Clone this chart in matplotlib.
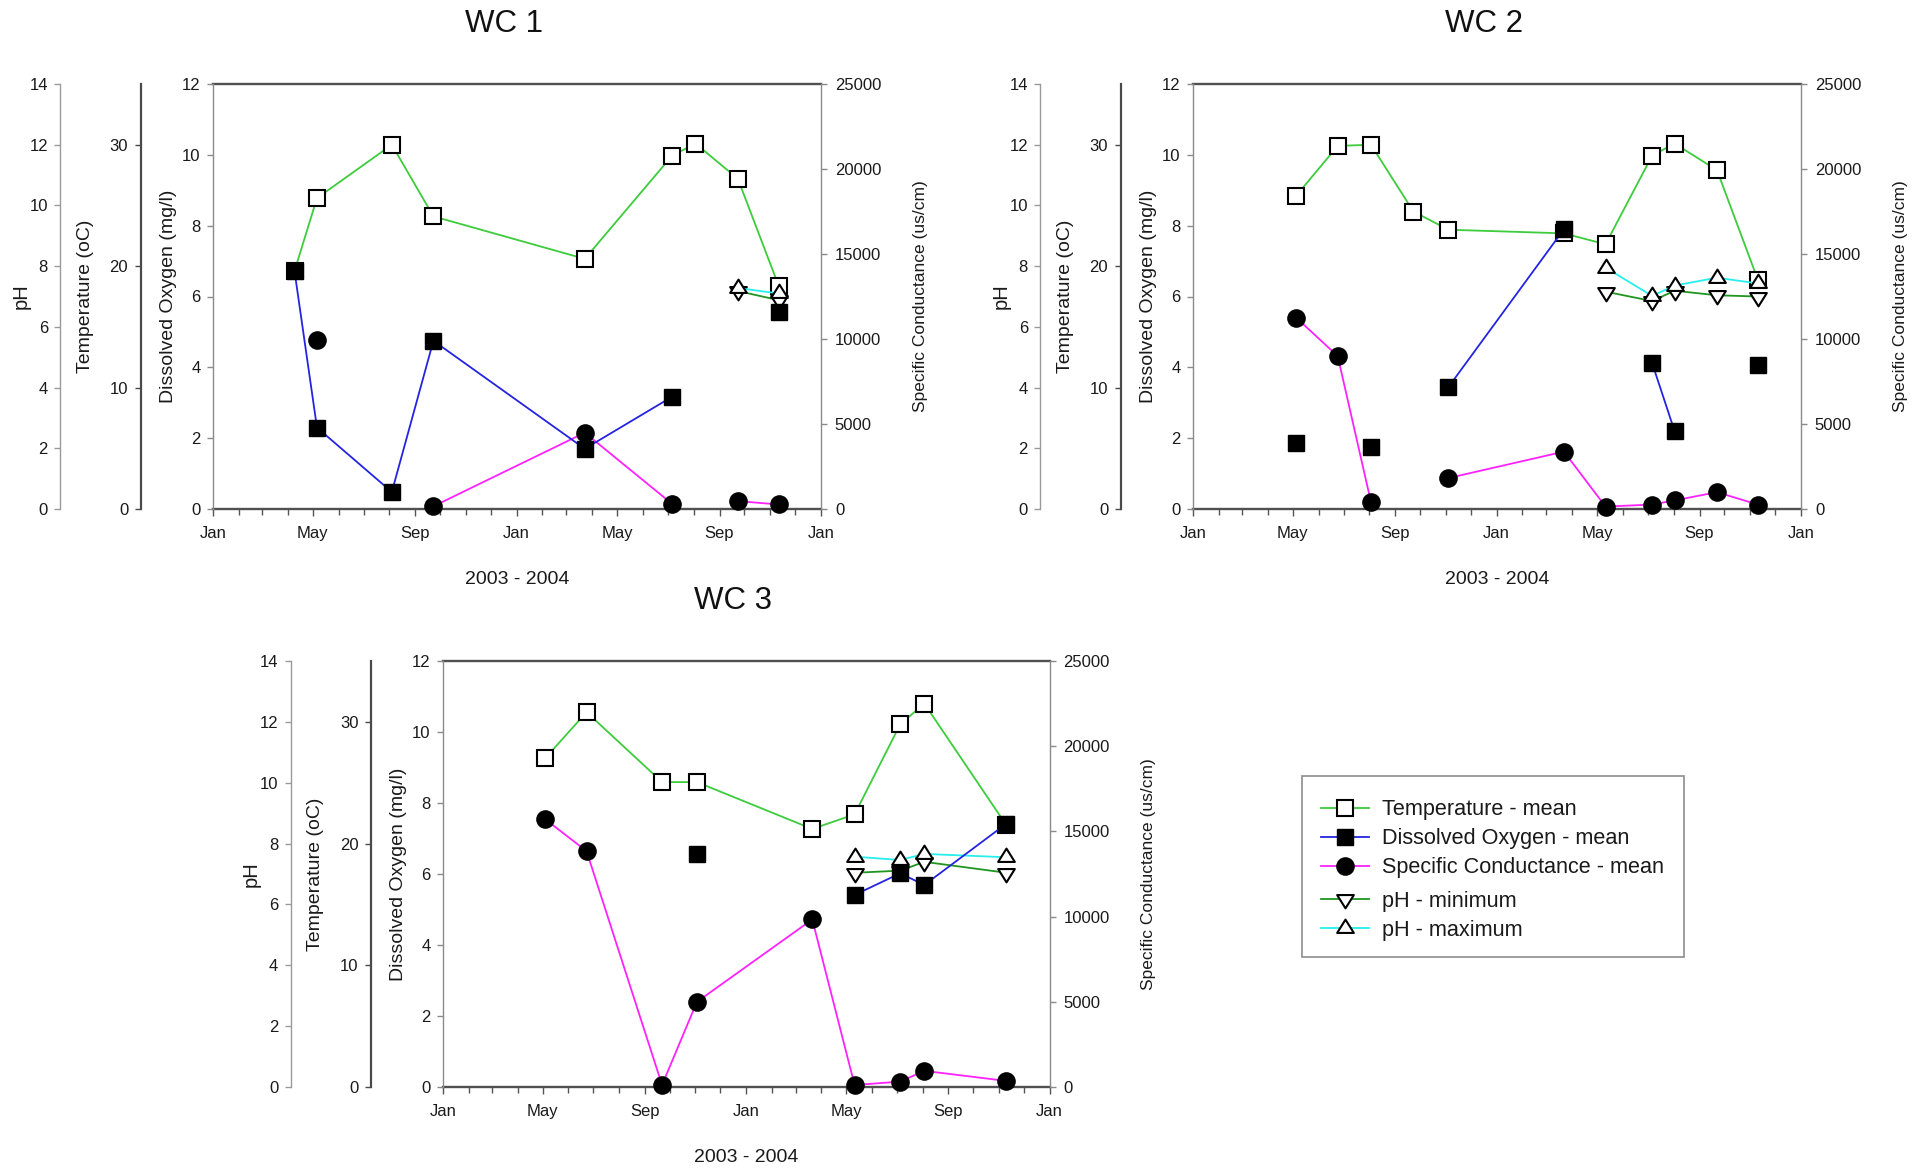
import numpy as np
import pandas as pd
import matplotlib
matplotlib.use("Agg")
import matplotlib.pyplot as plt
import matplotlib.dates as mdates
from matplotlib.lines import Line2D
from matplotlib.patches import Rectangle
from matplotlib.path import Path

plt.rcParams["font.family"] = ["Liberation Sans", "DejaVu Sans"]

nan = np.nan

# ---------------- station data ----------------
station_names = ["WC 1", "WC 2", "WC 3"]

wc1_dates = ["2003-04-09", "2003-05-06", "2003-08-04", "2003-09-23", "2004-03-23",
             "2004-07-06", "2004-08-03", "2004-09-23", "2004-11-11"]
wc1_temp = [19.6, 25.6, 30.0, 24.1, 20.6, 29.1, 30.1, 27.2, 18.4]
wc1_do = [6.72, 2.30, 0.48, 4.75, 1.70, 3.17, nan, nan, 5.57]
wc1_cond = [nan, 9940, nan, 160, 4490, 300, nan, 465, 265]
wc1_ph_min = [nan, nan, nan, nan, nan, nan, nan, 7.18, 6.88]
wc1_ph_max = [nan, nan, nan, nan, nan, nan, nan, 7.28, 7.10]

wc2_dates = ["2003-05-05", "2003-06-24", "2003-08-03", "2003-09-23", "2003-11-04",
             "2004-03-22", "2004-05-11", "2004-07-06", "2004-08-02", "2004-09-22",
             "2004-11-10"]
wc2_temp = [25.8, 29.9, 30.0, 24.5, 23.0, 22.7, 21.8, 29.1, 30.1, 27.9, 18.9]
wc2_do = [1.86, nan, 1.74, nan, 3.44, 7.90, nan, 4.12, 2.20, nan, 4.07]
wc2_cond = [11257, 8994, 404, nan, 1819, 3375, 141, 263, 505, 990, 263]
wc2_ph_min = [nan, nan, nan, nan, nan, nan, 7.16, 6.85, 7.19, 7.04, 7.00]
wc2_ph_max = [nan, nan, nan, nan, nan, nan, 7.95, 7.02, 7.36, 7.62, 7.43]

wc3_dates = ["2003-05-04", "2003-06-23", "2003-09-22", "2003-11-03", "2004-03-21",
             "2004-05-11", "2004-07-05", "2004-08-03", "2004-11-10"]
wc3_temp = [27.0, 30.8, 25.05, 25.05, 21.2, 22.4, 29.8, 31.5, 21.5]
wc3_do = [nan, nan, nan, 6.57, nan, 5.41, 6.02, 5.69, 7.42]
wc3_cond = [15719, 13843, 118, 4996, 9834, 118, 316, 948, 355]
wc3_ph_min = [nan, nan, nan, nan, nan, 7.04, 7.11, 7.40, 7.04]
wc3_ph_max = [nan, nan, nan, nan, nan, 7.57, 7.46, 7.66, 7.55]

series_labels = ["Temperature - mean", "Dissolved Oxygen - mean",
                 "Specific Conductance - mean", "pH - minimum", "pH - maximum"]
x_title = "2003 - 2004"
ph_title = "pH"
temp_title = "Temperature (oC)"
do_title = "Dissolved Oxygen (mg/l)"
cond_title = "Specific Conductance (us/cm)"

ph_ticks = [0, 2, 4, 6, 8, 10, 12, 14]
temp_ticks = [0, 10, 20, 30]
do_ticks = [0, 2, 4, 6, 8, 10, 12]
cond_ticks = [0, 5000, 10000, 15000, 20000, 25000]

# ---------------- styles ----------------
C_TEMP = "#3ccc3c"
C_DO = "#2424e0"
C_COND = "#ff22ff"
C_PHMIN = "#1f961f"
C_PHMAX = "#28eeee"
TEXT = "#1a1a1a"

TRI_CODES = [Path.MOVETO, Path.LINETO, Path.LINETO, Path.CLOSEPOLY]
# triangles centred on their centroid
TRI_UP = Path([(0, 2 / 3), (-0.625, -1 / 3), (0.625, -1 / 3), (0, 2 / 3)], TRI_CODES)
TRI_DOWN = Path([(0, -2 / 3), (-0.625, 1 / 3), (0.625, 1 / 3), (0, -2 / 3)], TRI_CODES)

STYLE_TEMP = dict(color=C_TEMP, lw=1.3, marker="s", ms=11.3, mfc="white", mec="black", mew=1.5)
STYLE_DO = dict(color=C_DO, lw=1.3, marker="s", ms=11.3, mfc="black", mec="black", mew=1.0)
STYLE_COND = dict(color=C_COND, lw=1.3, marker="o", ms=12.4, mfc="black", mec="black", mew=1.0)
STYLE_PHMIN = dict(color=C_PHMIN, lw=1.3, marker=TRI_DOWN, ms=12.8, mfc="white", mec="black", mew=1.5)
STYLE_PHMAX = dict(color=C_PHMAX, lw=1.3, marker=TRI_UP, ms=12.8, mfc="white", mec="black", mew=1.5)

FIG_W, FIG_H = 1927, 1168
fig = plt.figure(figsize=(FIG_W / 100, FIG_H / 100), dpi=100)
fig.patch.set_facecolor("white")

PH_OFFSET = -0.251
TEMP_OFFSET = -0.119


def style_left_axis(ax, pos, spine_color, spine_lw):
    for side in ("top", "bottom", "right"):
        ax.spines[side].set_visible(False)
    ax.spines["left"].set_visible(True)
    ax.spines["left"].set_position(("axes", pos))
    ax.spines["left"].set_color(spine_color)
    ax.spines["left"].set_linewidth(spine_lw)
    ax.yaxis.tick_left()
    ax.yaxis.set_label_position("left")
    ax.tick_params(axis="y", direction="out", length=4, width=1.0, color=spine_color,
                   labelsize=12, labelcolor=TEXT, pad=5)


def place_ylabel(ax, text, x, size):
    ax.set_ylabel(text, fontsize=size, color=TEXT)
    ax.yaxis.set_label_coords(x, 0.5)
    ax.yaxis.label.set_verticalalignment("center")
    ax.yaxis.label.set_horizontalalignment("center")


def draw_station(box, name, dates, temp, do, cond, ph_min, ph_max):
    left, right, top, bottom = box
    rect = [left / FIG_W, 1 - bottom / FIG_H, (right - left) / FIG_W, (bottom - top) / FIG_H]
    t = pd.to_datetime(dates)

    frame = fig.add_axes(rect)
    ax_t = frame.twinx()
    ax_ph = frame.twinx()
    ax_c = frame.twinx()
    ax_do = frame.twinx()
    for z, a in enumerate((frame, ax_t, ax_ph, ax_c, ax_do)):
        a.set_zorder(z)
        a.patch.set_visible(False)

    # series
    ax_t.plot(t, temp, clip_on=False, **STYLE_TEMP)
    ax_ph.plot(t, ph_min, clip_on=False, **STYLE_PHMIN)
    ax_ph.plot(t, ph_max, clip_on=False, **STYLE_PHMAX)
    ax_c.plot(t, cond, clip_on=False, **STYLE_COND)
    ax_do.plot(t, do, clip_on=False, **STYLE_DO)

    # frame with the time axis
    frame.set_xlim(pd.Timestamp("2003-01-01"), pd.Timestamp("2005-01-01"))
    frame.xaxis.set_major_locator(mdates.MonthLocator(bymonth=[1, 5, 9]))
    frame.xaxis.set_major_formatter(mdates.DateFormatter("%b"))
    frame.xaxis.set_minor_locator(mdates.MonthLocator())
    frame.tick_params(axis="x", which="major", direction="out", length=5, width=1.0,
                      color="#555555", labelsize=12, labelcolor=TEXT, pad=7)
    frame.tick_params(axis="x", which="minor", direction="out", length=4, width=1.0,
                      color="#555555")
    frame.yaxis.set_visible(False)
    frame.spines["left"].set_visible(False)
    frame.spines["right"].set_visible(False)
    for side in ("top", "bottom"):
        frame.spines[side].set_color("#505050")
        frame.spines[side].set_linewidth(1.7)
    frame.set_xlabel(x_title, fontsize=14, color=TEXT)
    frame.xaxis.set_label_coords(0.5, -0.165)
    frame.xaxis.label.set_verticalalignment("center")
    frame.set_title(name, fontsize=22.5, x=0.478, y=1.141, pad=0, va="center", color="#111111")

    # dissolved oxygen (main left axis)
    style_left_axis(ax_do, 0.0, "#8a8a8a", 1.0)
    ax_do.set_ylim(0, 12)
    ax_do.set_yticks(do_ticks)
    place_ylabel(ax_do, do_title, -0.074, 14)

    # temperature axis
    style_left_axis(ax_t, TEMP_OFFSET, "#4a4a4a", 1.6)
    ax_t.set_ylim(0, 35)
    ax_t.set_yticks(temp_ticks)
    place_ylabel(ax_t, temp_title, -0.2105, 14)

    # pH axis
    style_left_axis(ax_ph, PH_OFFSET, "#9a9a9a", 1.0)
    ax_ph.set_ylim(0, 14)
    ax_ph.set_yticks(ph_ticks)
    place_ylabel(ax_ph, ph_title, -0.316, 14.5)

    # specific conductance (right axis)
    for side in ("top", "bottom", "left"):
        ax_c.spines[side].set_visible(False)
    ax_c.spines["right"].set_color("#8a8a8a")
    ax_c.spines["right"].set_linewidth(1.0)
    ax_c.set_ylim(0, 25000)
    ax_c.set_yticks(cond_ticks)
    ax_c.tick_params(axis="y", direction="out", length=4, width=1.0, color="#8a8a8a",
                     labelsize=12, labelcolor=TEXT, pad=6)
    place_ylabel(ax_c, cond_title, 1.163, 12.5)


draw_station((213, 821, 84, 509), station_names[0], wc1_dates, wc1_temp, wc1_do,
             wc1_cond, wc1_ph_min, wc1_ph_max)
draw_station((1193, 1801, 84, 509), station_names[1], wc2_dates, wc2_temp, wc2_do,
             wc2_cond, wc2_ph_min, wc2_ph_max)
draw_station((443, 1049.6, 661, 1087), station_names[2], wc3_dates, wc3_temp, wc3_do,
             wc3_cond, wc3_ph_min, wc3_ph_max)

# ---------------- legend ----------------
handles = [Line2D([], [], **STYLE_TEMP), Line2D([], [], **STYLE_DO),
           Line2D([], [], **STYLE_COND), Line2D([], [], **STYLE_PHMIN),
           Line2D([], [], **STYLE_PHMAX)]
legend_kw = dict(loc="upper left", frameon=False, fontsize=15.6, handlelength=2.24,
                 handletextpad=0.58, labelspacing=0.37, borderpad=0, borderaxespad=0,
                 labelcolor=TEXT)
fig.legend(handles[:3], series_labels[:3], bbox_to_anchor=(0.6854, 0.3158), **legend_kw)
fig.legend(handles[3:], series_labels[3:], bbox_to_anchor=(0.6854, 0.2372), **legend_kw)
fig.add_artist(Rectangle((1301.7 / FIG_W, 1 - 956.7 / FIG_H), 382.6 / FIG_W, 180.7 / FIG_H,
                         transform=fig.transFigure, fill=False, edgecolor="#8c8c8c", lw=1.2))

fig.savefig("out.png", dpi=100, facecolor="white")
